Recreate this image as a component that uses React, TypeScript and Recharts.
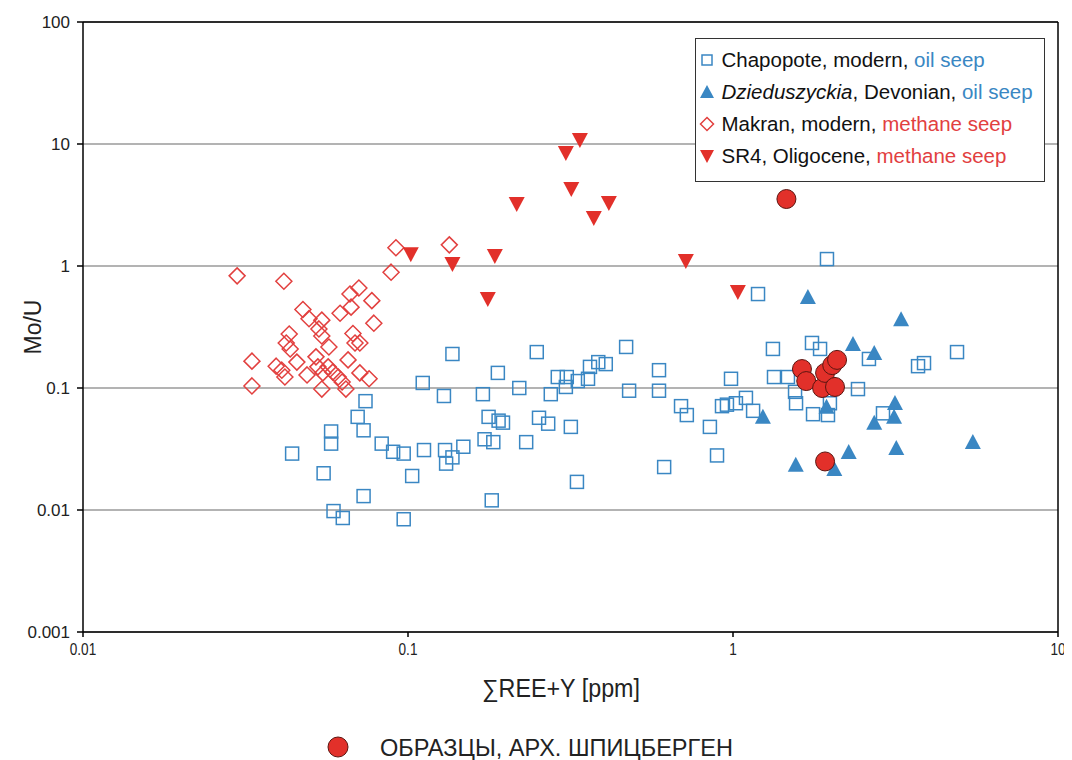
import { ScatterChart, Scatter, XAxis, YAxis, CartesianGrid, ReferenceLine } from 'recharts';

const xTicks = [0.01, 0.1, 1, 10];
const yTicks = [0.001, 0.01, 0.1, 1, 10, 100];

// Chapopote, modern, oil seep
const chapopote = [
  { x: 0.137, y: 0.19 }, { x: 0.189, y: 0.133 }, { x: 0.111, y: 0.11 }, { x: 0.129, y: 0.086 },
  { x: 0.17, y: 0.089 }, { x: 0.074, y: 0.078 }, { x: 0.07, y: 0.058 }, { x: 0.073, y: 0.045 },
  { x: 0.058, y: 0.044 }, { x: 0.058, y: 0.035 }, { x: 0.044, y: 0.029 }, { x: 0.083, y: 0.035 },
  { x: 0.09, y: 0.03 }, { x: 0.097, y: 0.029 }, { x: 0.112, y: 0.031 }, { x: 0.13, y: 0.031 },
  { x: 0.137, y: 0.027 }, { x: 0.131, y: 0.024 }, { x: 0.148, y: 0.033 }, { x: 0.172, y: 0.038 },
  { x: 0.183, y: 0.036 }, { x: 0.177, y: 0.058 }, { x: 0.19, y: 0.054 }, { x: 0.196, y: 0.052 },
  { x: 0.055, y: 0.02 }, { x: 0.103, y: 0.019 }, { x: 0.073, y: 0.013 }, { x: 0.181, y: 0.012 },
  { x: 0.059, y: 0.0098 }, { x: 0.063, y: 0.0086 }, { x: 0.097, y: 0.0084 }, { x: 0.249, y: 0.197 },
  { x: 0.469, y: 0.217 }, { x: 0.22, y: 0.1 }, { x: 0.275, y: 0.089 }, { x: 0.289, y: 0.123 },
  { x: 0.308, y: 0.123 }, { x: 0.306, y: 0.102 }, { x: 0.333, y: 0.114 }, { x: 0.358, y: 0.119 },
  { x: 0.363, y: 0.149 }, { x: 0.385, y: 0.163 }, { x: 0.406, y: 0.157 }, { x: 0.479, y: 0.095 },
  { x: 0.592, y: 0.14 }, { x: 0.592, y: 0.095 }, { x: 0.692, y: 0.071 }, { x: 0.721, y: 0.06 },
  { x: 0.849, y: 0.048 }, { x: 0.925, y: 0.071 }, { x: 0.958, y: 0.073 }, { x: 0.986, y: 0.119 },
  { x: 1.021, y: 0.075 }, { x: 0.253, y: 0.057 }, { x: 0.27, y: 0.051 }, { x: 0.317, y: 0.048 },
  { x: 0.231, y: 0.036 }, { x: 0.893, y: 0.028 }, { x: 0.614, y: 0.0225 }, { x: 0.331, y: 0.017 },
  { x: 1.946, y: 1.14 }, { x: 1.194, y: 0.589 }, { x: 1.327, y: 0.209 }, { x: 1.75, y: 0.234 },
  { x: 1.853, y: 0.209 }, { x: 2.62, y: 0.173 }, { x: 3.71, y: 0.151 }, { x: 3.87, y: 0.16 },
  { x: 4.89, y: 0.197 }, { x: 1.337, y: 0.123 }, { x: 1.476, y: 0.123 }, { x: 1.552, y: 0.093 },
  { x: 1.563, y: 0.075 }, { x: 1.096, y: 0.083 }, { x: 1.153, y: 0.065 }, { x: 1.763, y: 0.061 },
  { x: 1.96, y: 0.06 }, { x: 1.987, y: 0.075 }, { x: 2.894, y: 0.062 }, { x: 2.424, y: 0.098 },
];

// Dzieduszyckia, Devonian, oil seep
const dzieduszyckia = [
  { x: 1.7, y: 0.547 }, { x: 2.34, y: 0.225 }, { x: 2.72, y: 0.19 }, { x: 3.29, y: 0.36 },
  { x: 1.236, y: 0.057 }, { x: 1.94, y: 0.069 }, { x: 3.15, y: 0.074 }, { x: 3.13, y: 0.057 },
  { x: 2.72, y: 0.051 }, { x: 1.56, y: 0.023 }, { x: 2.05, y: 0.0213 }, { x: 2.27, y: 0.0293 },
  { x: 3.18, y: 0.0316 }, { x: 5.47, y: 0.0354 },
];

// Makran, modern, methane seep
const makran = [
  { x: 0.0298, y: 0.83 }, { x: 0.0415, y: 0.75 }, { x: 0.0918, y: 1.41 }, { x: 0.0887, y: 0.89 },
  { x: 0.134, y: 1.49 }, { x: 0.0706, y: 0.66 }, { x: 0.0663, y: 0.59 }, { x: 0.0774, y: 0.52 },
  { x: 0.0475, y: 0.44 }, { x: 0.0618, y: 0.41 }, { x: 0.0668, y: 0.46 }, { x: 0.0496, y: 0.37 },
  { x: 0.0543, y: 0.36 }, { x: 0.0785, y: 0.34 }, { x: 0.0532, y: 0.305 }, { x: 0.0431, y: 0.277 },
  { x: 0.0677, y: 0.28 }, { x: 0.0543, y: 0.267 }, { x: 0.0422, y: 0.234 }, { x: 0.0687, y: 0.234 },
  { x: 0.0711, y: 0.234 }, { x: 0.0434, y: 0.209 }, { x: 0.0571, y: 0.217 }, { x: 0.0331, y: 0.166 },
  { x: 0.0521, y: 0.18 }, { x: 0.0654, y: 0.17 }, { x: 0.0455, y: 0.163 }, { x: 0.0393, y: 0.151 },
  { x: 0.0409, y: 0.14 }, { x: 0.0568, y: 0.149 }, { x: 0.0528, y: 0.149 }, { x: 0.0587, y: 0.135 },
  { x: 0.0418, y: 0.123 }, { x: 0.0489, y: 0.128 }, { x: 0.0547, y: 0.133 }, { x: 0.061, y: 0.123 },
  { x: 0.0711, y: 0.133 }, { x: 0.0759, y: 0.119 }, { x: 0.0627, y: 0.112 }, { x: 0.0331, y: 0.104 },
  { x: 0.0543, y: 0.098 }, { x: 0.0644, y: 0.098 },
];

// SR4, Oligocene, methane seep
const sr4 = [
  { x: 0.338, y: 10.8 }, { x: 0.306, y: 8.44 }, { x: 0.318, y: 4.28 }, { x: 0.216, y: 3.22 },
  { x: 0.415, y: 3.28 }, { x: 0.373, y: 2.47 }, { x: 0.102, y: 1.25 }, { x: 0.137, y: 1.04 },
  { x: 0.185, y: 1.21 }, { x: 0.176, y: 0.537 }, { x: 0.716, y: 1.1 }, { x: 1.035, y: 0.612 },
];

// Образцы, арх. Шпицберген
const svalbard = [
  { x: 1.46, y: 3.54 }, { x: 1.63, y: 0.143 }, { x: 1.68, y: 0.114 }, { x: 1.88, y: 0.1 },
  { x: 1.92, y: 0.133 }, { x: 2.06, y: 0.102 }, { x: 2.02, y: 0.154 }, { x: 2.09, y: 0.17 },
  { x: 1.92, y: 0.025 },
];

const BLUE = '#3a87c3';
const RED = '#e2302a';
const PINK = '#e2403f';
const ARIAL = "'Liberation Sans', Arial, sans-serif";

const Square = (p: any) => (
  <rect x={p.cx - 6.5} y={p.cy - 6.5} width={13} height={13} fill="none" stroke={BLUE} strokeWidth={1.5} />
);
const TriUp = (p: any) => (
  <polygon points={`${p.cx},${p.cy - 9} ${p.cx + 8},${p.cy + 6} ${p.cx - 8},${p.cy + 6}`} fill={BLUE} />
);
const Diamond = (p: any) => (
  <polygon
    points={`${p.cx},${p.cy - 8} ${p.cx + 8},${p.cy} ${p.cx},${p.cy + 8} ${p.cx - 8},${p.cy}`}
    fill="none" stroke={PINK} strokeWidth={1.5}
  />
);
const TriDown = (p: any) => (
  <polygon points={`${p.cx - 8},${p.cy - 7} ${p.cx + 8},${p.cy - 7} ${p.cx},${p.cy + 8}`} fill={RED} />
);
const Dot = (p: any) => <circle cx={p.cx} cy={p.cy} r={9.5} fill={RED} stroke="#5b1510" strokeWidth={1} />;

const fmt = (v: number) => String(v);

// narrow tick labels on the x axis
const renderXTick = (p: any) => (
  <g transform={`translate(${p.x},${p.y + 16}) scale(0.8,1)`}>
    <text x={0} y={0} textAnchor="middle" fill="#222" style={{ fontSize: 17, fontFamily: ARIAL }}>
      {fmt(p.payload.value)}
    </text>
  </g>
);

// x-axis title plus the samples legend underneath
const BottomLabels = () => (
  <g fontFamily={ARIAL} fill="#222">
    <text x={474} y={689} fontSize={25} textLength={158} lengthAdjust="spacingAndGlyphs">
      ∑REE+Y [ppm]
    </text>
    <circle cx={330} cy={739} r={10} fill={RED} stroke="#5b1510" strokeWidth={1} />
    <text x={372} y={748} fontSize={24} textLength={353} lengthAdjust="spacingAndGlyphs">
      ОБРАЗЦЫ, АРХ. ШПИЦБЕРГЕН
    </text>
  </g>
);

const legendRows = [
  { mark: 'sq', name: 'Chapopote', rest: ', modern, ', kind: 'oil seep', color: BLUE },
  { mark: 'up', name: 'Dzieduszyckia', rest: ', Devonian, ', kind: 'oil seep', color: BLUE, italic: true },
  { mark: 'dia', name: 'Makran', rest: ', modern, ', kind: 'methane seep', color: PINK },
  { mark: 'down', name: 'SR4', rest: ', Oligocene, ', kind: 'methane seep', color: PINK },
];

const LegendMark = ({ mark }: { mark: string }) => (
  <svg width={16} height={16} style={{ marginRight: 7, flexShrink: 0 }}>
    {mark === 'sq' && <rect x={3} y={3} width={10} height={10} fill="none" stroke={BLUE} strokeWidth={1.5} />}
    {mark === 'up' && <polygon points="8,1 15,14 1,14" fill={BLUE} />}
    {mark === 'dia' && <polygon points="8,1.5 14.5,8 8,14.5 1.5,8" fill="none" stroke={PINK} strokeWidth={1.5} />}
    {mark === 'down' && <polygon points="1,2 15,2 8,15" fill={RED} />}
  </svg>
);

export default function App() {
  return (
    <div style={{ position: 'relative', width: 1064, height: 752, background: '#fff' }}>
      <ScatterChart width={1064} height={752} margin={{ top: 14, right: 14, bottom: 0, left: 0 }}>
        <CartesianGrid vertical={false} stroke="#9a9a9a" strokeWidth={1.5} />
        <XAxis
          type="number" dataKey="x" scale="log" domain={[0.01, 10]} ticks={xTicks} allowDataOverflow
          height={128} stroke="#000" strokeWidth={1.5} tickSize={5} tick={renderXTick}
          label={{ content: () => <BottomLabels /> }}
        />
        <YAxis
          type="number" dataKey="y" scale="log" domain={[0.001, 100]} ticks={yTicks} allowDataOverflow
          tickFormatter={fmt} width={75} stroke="#000" strokeWidth={1.5} tickSize={6} tickMargin={7}
          tick={{ fill: '#222', fontSize: 17, fontFamily: ARIAL }}
          label={{
            content: () => (
              <text x={33} y={319} transform="rotate(-90 33 319)" textAnchor="middle" fontSize={23}
                fontFamily={ARIAL} fill="#222">
                Mo/U
              </text>
            ),
          }}
        />
        <ReferenceLine y={100} stroke="#000" strokeWidth={1.5} />
        <ReferenceLine x={10} stroke="#000" strokeWidth={1.5} />
        <Scatter data={chapopote} shape={Square} isAnimationActive={false} />
        <Scatter data={dzieduszyckia} shape={TriUp} isAnimationActive={false} />
        <Scatter data={makran} shape={Diamond} isAnimationActive={false} />
        <Scatter data={sr4} shape={TriDown} isAnimationActive={false} />
        <Scatter data={svalbard} shape={Dot} isAnimationActive={false} />
      </ScatterChart>

      <div
        style={{
          position: 'absolute', left: 687, top: 30, width: 350, height: 144, background: '#fff',
          border: '1.5px solid #333', boxSizing: 'border-box', padding: '5px 0 0 2.5px',
          fontFamily: ARIAL, fontSize: 20.5, color: '#111',
        }}
      >
        {legendRows.map((r) => (
          <div key={r.name} style={{ display: 'flex', alignItems: 'center', height: 32, whiteSpace: 'nowrap' }}>
            <LegendMark mark={r.mark} />
            <span style={{ fontStyle: r.italic ? 'italic' : 'normal' }}>{r.name}</span>
            <span style={{ whiteSpace: 'pre' }}>{r.rest}</span>
            <span style={{ color: r.color }}>{r.kind}</span>
          </div>
        ))}
      </div>
    </div>
  );
}
